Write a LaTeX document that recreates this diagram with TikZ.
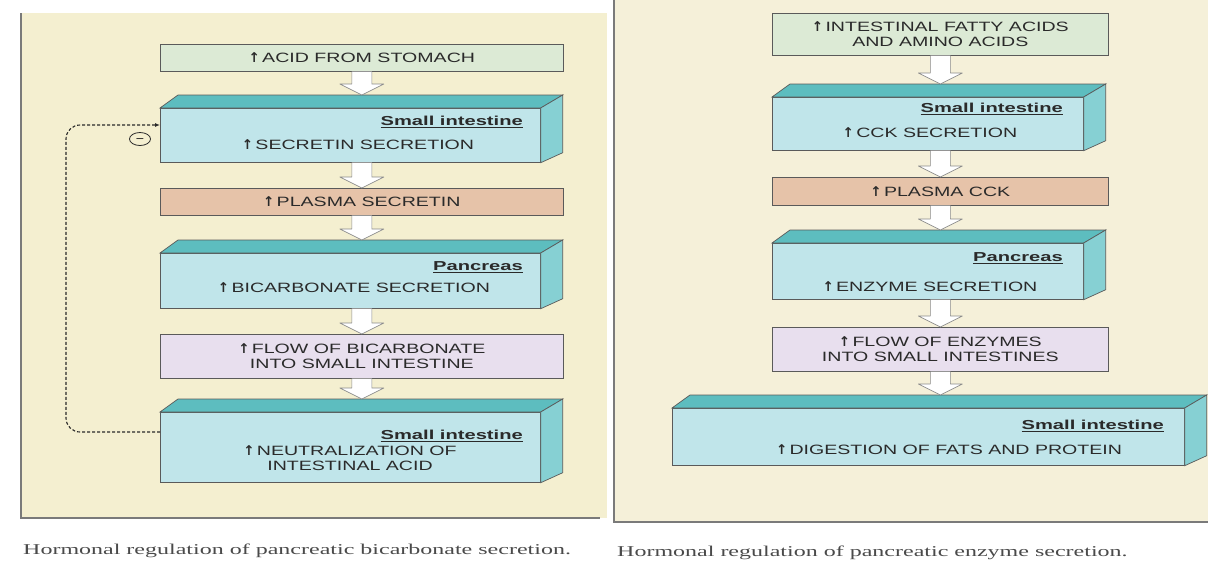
\documentclass[tikz,border=0pt]{standalone}
\usepackage{fontspec}
\setmainfont{Liberation Serif}
\newfontfamily\boxfont[FakeStretch=1.45]{Liberation Sans}
\newfontfamily\organfont[FakeStretch=1.55]{Liberation Sans}
\newfontfamily\capfont[FakeStretch=1.6]{Liberation Serif}
\newfontfamily\symfont{DejaVu Sans}
\usepackage{tikz}
\usetikzlibrary{calc, positioning, shapes.geometric, arrows.meta}

\definecolor{paper}{HTML}{F4EFD0}
\definecolor{paperb}{HTML}{F5F0D9}
\definecolor{acidgreen}{HTML}{DCEAD5}
\definecolor{slabcyan}{HTML}{C0E5EA}
\definecolor{slabtop}{HTML}{5DBDBF}
\definecolor{slabside}{HTML}{86D0D3}
\definecolor{peach}{HTML}{E6C3A9}
\definecolor{lilac}{HTML}{E8DFEE}
\definecolor{boxline}{HTML}{5A5A5A}
\definecolor{ink}{HTML}{2A2A2A}
\definecolor{arrowgray}{HTML}{8A8A8A}
\definecolor{capgray}{HTML}{4A4A4A}
\definecolor{frame}{HTML}{7A7A7A}

\newcommand{\incr}{{\symfont\bfseries ↑}\,}

% top and side faces of a slab node
\newcommand{\slabfaces}[1]{%
  \filldraw[draw=boxline, line width=0.7pt, fill=slabtop] (#1.north west) -- ++(18,-13)
    -- ($(#1.north east)+(22,-13)$) -- (#1.north east) -- cycle;
  \filldraw[draw=boxline, line width=0.7pt, fill=slabside] (#1.north east) -- ++(22,-13)
    -- ($(#1.south east)+(22,-10)$) -- (#1.south east) -- cycle;}

% hollow block arrow: [tip lift]{from}{to}{column}
\newcommand{\flowarrow}[4][0pt]{%
  \filldraw[hollow] let \p1=(#2.south -| #4.south), \p2=(#3.north) in
    (\x1-10pt,\y1) -- (\x1-10pt,\y2+#1+11pt) -- (\x1-22pt,\y2+#1+11pt) -- (\x1,\y2+#1)
    -- (\x1+22pt,\y2+#1+11pt) -- (\x1+10pt,\y2+#1+11pt) -- (\x1+10pt,\y1);}

\begin{document}
\begin{tikzpicture}[x=1pt, y=-1pt,
    flatbox/.style={draw=boxline, line width=0.7pt, anchor=north west, inner sep=0pt,
      align=center, text=ink, font=\boxfont\fontsize{13.5}{15}\selectfont},
    slabfront/.style={flatbox, fill=slabcyan},
    organ/.style={anchor=east, inner sep=0pt, text=ink,
      font=\organfont\bfseries\fontsize{13}{15}\selectfont},
    slabtext/.style={inner sep=0pt, align=center, text=ink,
      font=\boxfont\fontsize{13.5}{15}\selectfont},
    hollow/.style={fill=white, draw=arrowgray, line width=0.7pt, line join=round},
    feedback/.style={draw=ink, line width=1.1pt, dash pattern=on 3pt off 2pt,
      rounded corners=14pt, -{Latex[length=5pt,width=4pt]}},
    minus/.style={ellipse, draw=ink, line width=0.8pt, minimum width=21pt,
      minimum height=13pt, inner sep=0pt, text height=7.4pt, text depth=0pt,
      text=ink, font=\symfont\fontsize{11}{11}\selectfont},
    caption/.style={anchor=west, inner sep=0pt, text=capgray,
      font=\capfont\fontsize{15}{17}\selectfont}]
\useasboundingbox (0,0) rectangle (1208,574);
\fill[white] (0,0) rectangle (1208,574);

% panels
\fill[paper] (21,13) rectangle (607,518);
\draw[frame, line width=1.4pt] (21,13) -- (21,518) -- (600,518);
\fill[paperb] (614,0) rectangle (1208,522);
\draw[frame, line width=1.4pt] (614,0) -- (614,522) -- (1208,522);

% bicarbonate column
\node[flatbox, fill=acidgreen, minimum width=403pt, minimum height=27pt] (acid) at (160,44) {\incr ACID FROM STOMACH};
\node[slabfront, minimum width=380pt, minimum height=54pt] (si1) at (160,108) {};
\node[organ] (si1lab) at (523,122) {\underline{Small intestine}};
\node[slabtext] (si1txt) at (358,145) {\incr SECRETIN SECRETION};
\node[flatbox, fill=peach, minimum width=403pt, minimum height=27pt] (plasma1) at (160,188) {\incr PLASMA SECRETIN};
\node[slabfront, minimum width=380pt, minimum height=55pt] (pan1) at (160,253) {};
\node[organ] (pan1lab) at (523,267) {\underline{Pancreas}};
\node[slabtext] (pan1txt) at (354,288) {\incr BICARBONATE SECRETION};
\node[flatbox, fill=lilac, minimum width=403pt, minimum height=44pt] (flow1) at (160,334) {\incr FLOW OF BICARBONATE\\INTO SMALL INTESTINE};
\node[slabfront, minimum width=380pt, minimum height=70pt] (neut) at (160,412) {};
\node[organ] (neutlab) at (523,436) {\underline{Small intestine}};
\node[slabtext] (neuttxt) at (350,458) {\incr NEUTRALIZATION OF\\INTESTINAL ACID};
\slabfaces{si1}
\slabfaces{pan1}
\slabfaces{neut}
\flowarrow[13pt]{acid}{si1}{acid}
\flowarrow{si1}{plasma1}{acid}
\flowarrow[13pt]{plasma1}{pan1}{acid}
\flowarrow{pan1}{flow1}{acid}
\flowarrow[13pt]{flow1}{neut}{acid}

% negative feedback
\draw[feedback] ($(neut.north west)+(0,20)$) -| (66,125) -- ($(si1.north west)+(0,17)$);
\node[minus] (neg) at (140,139) {−};

% enzyme column
\node[flatbox, fill=acidgreen, minimum width=336pt, minimum height=42pt] (fatty) at (772,13) {\incr INTESTINAL FATTY ACIDS\\AND AMINO ACIDS};
\node[slabfront, minimum width=311pt, minimum height=53pt] (si2) at (772,97) {};
\node[organ] (si2lab) at (1063,109) {\underline{Small intestine}};
\node[slabtext] (si2txt) at (930,133) {\incr CCK SECRETION};
\node[flatbox, fill=peach, minimum width=336pt, minimum height=28pt] (plasma2) at (772,177) {\incr PLASMA CCK};
\node[slabfront, minimum width=311pt, minimum height=56pt] (pan2) at (772,243) {};
\node[organ] (pan2lab) at (1063,258) {\underline{Pancreas}};
\node[slabtext] (pan2txt) at (930,287) {\incr ENZYME SECRETION};
\node[flatbox, fill=lilac, minimum width=336pt, minimum height=44pt] (flow2) at (772,327) {\incr FLOW OF ENZYMES\\INTO SMALL INTESTINES};
\node[slabfront, minimum width=512pt, minimum height=57pt] (dig) at (672,408) {};
\node[organ] (diglab) at (1164,426) {\underline{Small intestine}};
\node[slabtext] (digtxt) at (949,450) {\incr DIGESTION OF FATS AND PROTEIN};
\slabfaces{si2}
\slabfaces{pan2}
\slabfaces{dig}
\flowarrow[13pt]{fatty}{si2}{fatty}
\flowarrow{si2}{plasma2}{fatty}
\flowarrow[13pt]{plasma2}{pan2}{fatty}
\flowarrow{pan2}{flow2}{fatty}
\flowarrow[13pt]{flow2}{dig}{fatty}

% captions
\node[caption] (cap1) at (23,551) {Hormonal regulation of pancreatic bicarbonate secretion.};
\node[caption] (cap2) at (617,553) {Hormonal regulation of pancreatic enzyme secretion.};
\end{tikzpicture}
\end{document}
